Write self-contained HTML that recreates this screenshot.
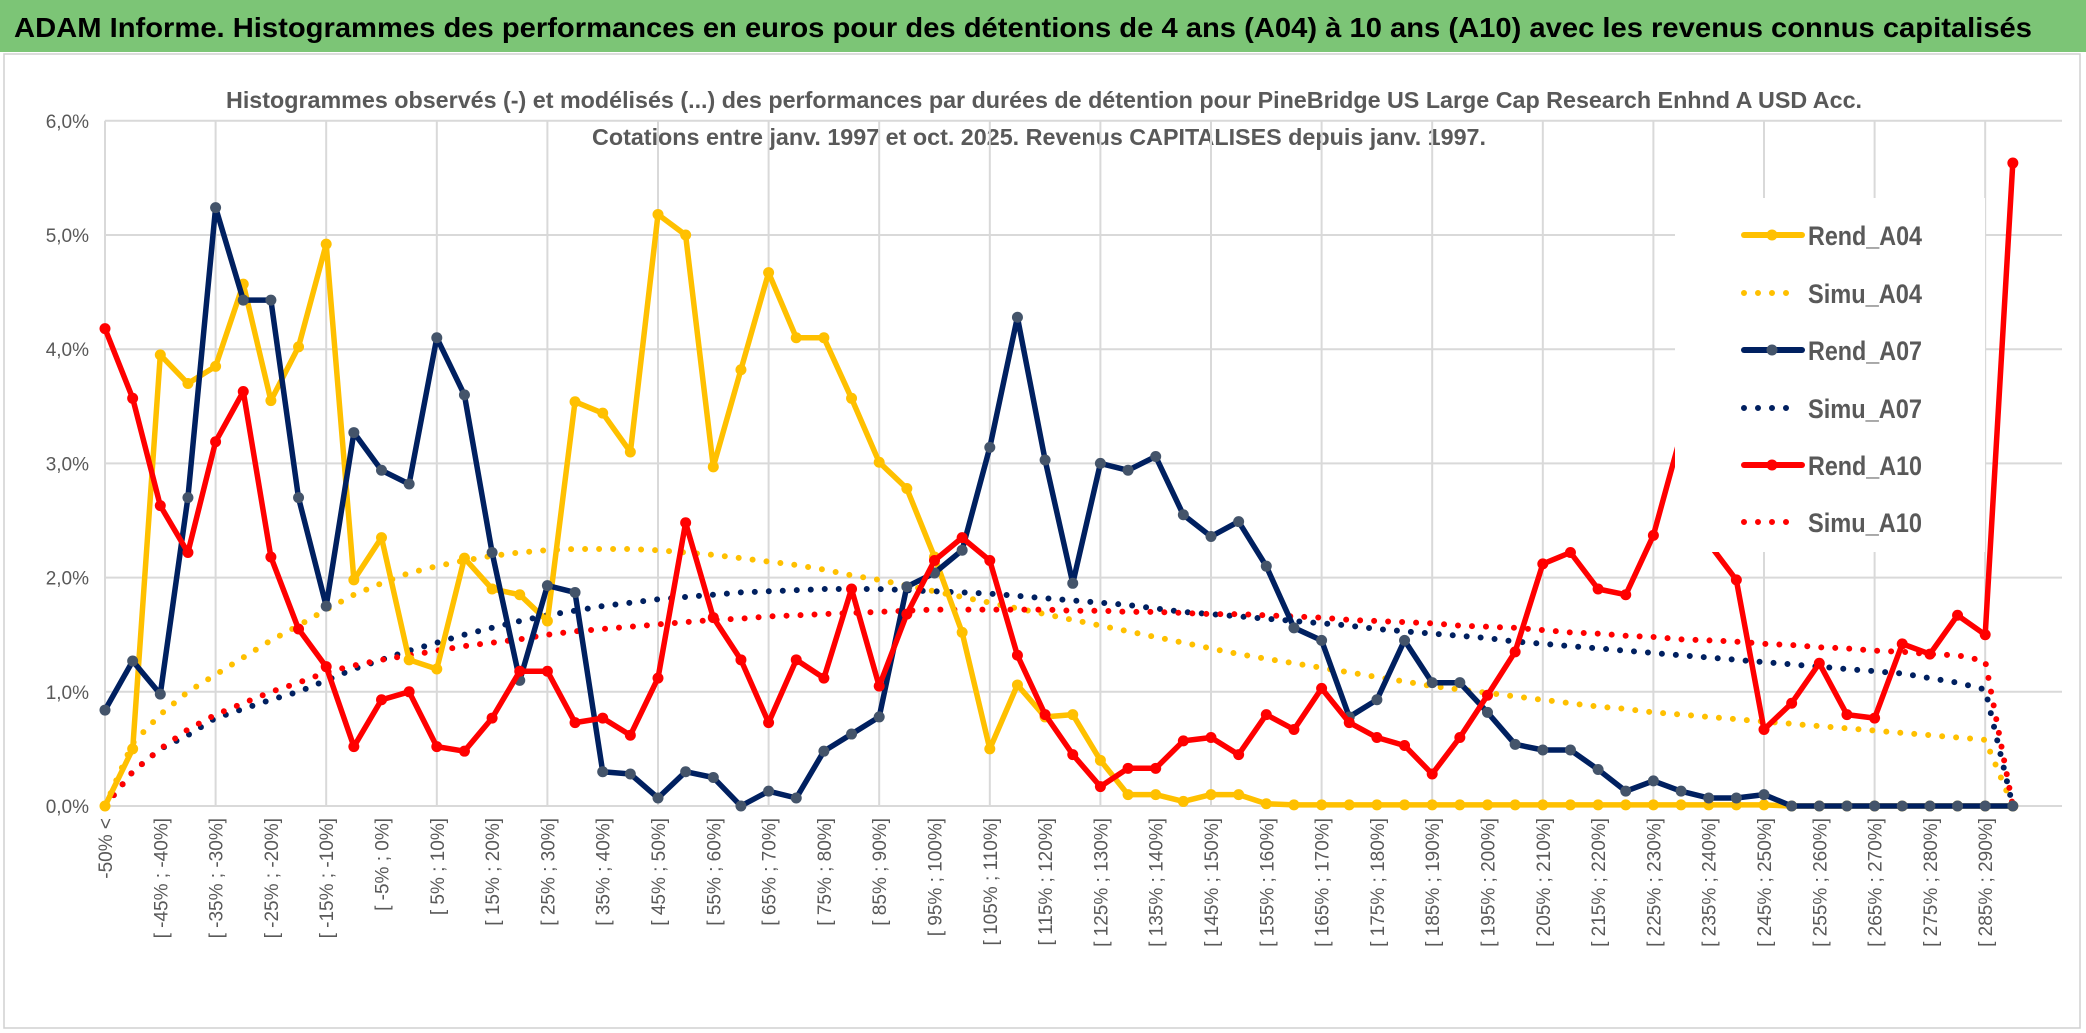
<!DOCTYPE html>
<html><head><meta charset="utf-8">
<style>
html,body{margin:0;padding:0;background:#fff;}
svg{display:block;font-family:"Liberation Sans",sans-serif;}
</style></head>
<body>
<svg id="chart" width="2086" height="1033" viewBox="0 0 2086 1033" xmlns="http://www.w3.org/2000/svg">
  <rect x="0" y="0" width="2086" height="1033" fill="#fff"/>
  <rect x="0" y="0" width="2086" height="52" fill="#7cc576"/>
  <text x="14" y="37" font-size="28" font-weight="bold" fill="#000" textLength="2018" lengthAdjust="spacingAndGlyphs">ADAM Informe. Histogrammes des performances en euros pour des détentions de 4 ans (A04) à 10 ans (A10) avec les revenus connus capitalisés</text>
  <rect x="4" y="54" width="2076" height="974" fill="none" stroke="#d0d0d0" stroke-width="1.5"/>
  <text x="1044" y="108" font-size="23" font-weight="bold" fill="#595959" text-anchor="middle" textLength="1636" lengthAdjust="spacingAndGlyphs">Histogrammes observés (-) et modélisés (...) des performances par durées de détention pour PineBridge US Large Cap Research Enhnd A USD Acc.</text>
  <text x="1039" y="145" font-size="23" font-weight="bold" fill="#595959" text-anchor="middle" textLength="894" lengthAdjust="spacingAndGlyphs">Cotations entre janv. 1997 et oct. 2025. Revenus CAPITALISES depuis janv. 1997.</text>
  <g id="grid"></g>
  <g id="yaxis"></g>
  <g id="xaxis"></g>
  <g id="series"></g>
  <g id="legend"></g>
</svg>
<script>
const rendA04 = [0,0.5,3.95,3.7,3.85,4.57,3.55,4.02,4.92,1.98,2.35,1.28,1.2,2.17,1.9,1.85,1.62,3.54,3.44,3.1,5.18,5.0,2.97,3.82,4.67,4.1,4.1,3.57,3.01,2.78,2.18,1.52,0.5,1.06,0.78,0.8,0.4,0.1,0.1,0.04,0.1,0.1,0.02,0.01,0.01,0.01,0.01,0.01,0.01,0.01,0.01,0.01,0.01,0.01,0.01,0.01,0.01,0.01,0.01,0.01,0.01,0,0,0,0,0,0,0,0,0];
const simuA04 = [0,0.55,0.8,1.0,1.15,1.3,1.45,1.58,1.72,1.85,1.95,2.04,2.1,2.15,2.19,2.22,2.24,2.25,2.25,2.25,2.24,2.22,2.2,2.17,2.14,2.11,2.07,2.02,1.98,1.93,1.88,1.83,1.78,1.73,1.68,1.63,1.58,1.53,1.48,1.43,1.38,1.33,1.29,1.25,1.21,1.17,1.13,1.09,1.05,1.02,0.99,0.96,0.93,0.9,0.87,0.85,0.82,0.8,0.78,0.76,0.74,0.72,0.7,0.68,0.66,0.64,0.62,0.6,0.58,0];
const rendA07 = [0.84,1.27,0.98,2.7,5.24,4.43,4.43,2.7,1.75,3.27,2.94,2.82,4.1,3.6,2.22,1.1,1.93,1.87,0.3,0.28,0.07,0.3,0.25,0.0,0.13,0.07,0.48,0.63,0.78,1.92,2.04,2.24,3.14,4.28,3.03,1.95,3.0,2.94,3.06,2.55,2.36,2.49,2.1,1.56,1.45,0.78,0.93,1.45,1.08,1.08,0.82,0.54,0.49,0.49,0.32,0.13,0.22,0.13,0.07,0.07,0.1,0,0,0,0,0,0,0,0,0];
const simuA07 = [0,0.3,0.5,0.62,0.77,0.85,0.93,1.0,1.1,1.2,1.28,1.36,1.43,1.5,1.56,1.62,1.67,1.71,1.75,1.78,1.81,1.83,1.85,1.87,1.88,1.89,1.9,1.9,1.9,1.89,1.88,1.87,1.86,1.84,1.82,1.8,1.78,1.76,1.73,1.7,1.68,1.66,1.64,1.62,1.6,1.58,1.55,1.53,1.51,1.49,1.47,1.44,1.42,1.4,1.38,1.36,1.34,1.32,1.3,1.28,1.26,1.24,1.22,1.2,1.18,1.16,1.12,1.08,1.02,0];
const rendA10 = [4.18,3.57,2.63,2.22,3.19,3.63,2.18,1.55,1.22,0.52,0.93,1.0,0.52,0.48,0.77,1.18,1.18,0.73,0.77,0.62,1.12,2.48,1.65,1.28,0.73,1.28,1.12,1.9,1.05,1.68,2.15,2.35,2.15,1.32,0.8,0.45,0.17,0.33,0.33,0.57,0.6,0.45,0.8,0.67,1.03,0.73,0.6,0.53,0.28,0.6,0.97,1.35,2.12,2.22,1.9,1.85,2.37,3.25,2.3,1.98,0.67,0.9,1.25,0.8,0.77,1.42,1.33,1.67,1.5,5.63];
const simuA10 = [0,0.3,0.5,0.67,0.8,0.9,1.0,1.08,1.17,1.23,1.28,1.32,1.36,1.4,1.43,1.46,1.5,1.53,1.55,1.57,1.59,1.61,1.63,1.64,1.66,1.67,1.68,1.69,1.7,1.71,1.72,1.72,1.72,1.72,1.72,1.71,1.71,1.7,1.7,1.69,1.68,1.68,1.67,1.66,1.65,1.63,1.62,1.61,1.6,1.58,1.57,1.56,1.54,1.52,1.51,1.49,1.48,1.46,1.45,1.44,1.42,1.41,1.39,1.38,1.36,1.35,1.33,1.32,1.27,0];
const yTicks = ["0,0%","1,0%","2,0%","3,0%","4,0%","5,0%","6,0%"];
const yTickValues = [0,1,2,3,4,5,6];

const NS="http://www.w3.org/2000/svg";
const N = rendA04.length;
const x0=105, dx=27.65, y0=806, dy=114.2;
function xs(i){return x0+i*dx;}
function ys(v){return y0-v*dy;}
function mk(tag,parent,attrs){const e=document.createElementNS(NS,tag);for(const k in attrs)e.setAttribute(k,attrs[k]);parent.appendChild(e);return e;}
function catLabel(i){ if(i===0) return "-50% <"; const a=-55+5*i,b=a+5; return "[ "+a+"% ; "+b+"%]"; }

const grid=document.getElementById('grid');
for(let k=0;k<yTickValues.length;k++){
  const l=mk('line',grid,{x1:x0,x2:2062,y1:ys(yTickValues[k]),y2:ys(yTickValues[k]),stroke:'#d9d9d9','stroke-width':2});
  
  
}
for(let i=0;i<N;i+=4){
  const l=mk('line',grid,{x1:xs(i),x2:xs(i),y1:ys(6),y2:ys(0),stroke:'#d9d9d9','stroke-width':2});
  
  
}
const yax=document.getElementById('yaxis');
for(let k=0;k<yTicks.length;k++){
  const t=mk('text',yax,{x:89,y:ys(yTickValues[k])+7,'font-size':19,fill:'#595959','text-anchor':'end'});
  t.textContent=yTicks[k];
  
  
}
const xax=document.getElementById('xaxis');
for(let i=0;i<N;i+=2){
  const x=xs(i)+7, y=818;
  const t=mk('text',xax,{x:x,y:y,'font-size':19,fill:'#595959','text-anchor':'end',transform:'rotate(-90 '+x+' '+y+')'});
  t.textContent=catLabel(i);
  
  
}
const ser=document.getElementById('series');
function pathD(arr){return arr.map((v,i)=>(i?'L':'M')+xs(i).toFixed(1)+' '+ys(v).toFixed(1)).join(' ');}
function dotted(arr,color,name){
  const p=mk('path',ser,{d:pathD(arr),fill:'none',stroke:color,'stroke-width':6,'stroke-linecap':'round','stroke-dasharray':'0 14'});
  
  
}
function solid(arr,color,mcol,name){
  const g=mk('g',ser,{});
  
  
  const p=mk('path',g,{d:pathD(arr),fill:'none',stroke:color,'stroke-width':5.5,'stroke-linejoin':'round'});
  
  
  arr.forEach((v,i)=>{
    const c=mk('circle',g,{cx:xs(i),cy:ys(v),r:5.5,fill:mcol});
    
    
  });
}
dotted(simuA04,'#ffc000','simu-a04-line');
dotted(simuA07,'#002060','simu-a07-line');
dotted(simuA10,'#ff0000','simu-a10-line');
solid(rendA04,'#ffc000','#ffc000','rend-a04');
solid(rendA07,'#002060','#44546a','rend-a07');
solid(rendA10,'#ff0000','#ff0000','rend-a10');

const leg=document.getElementById('legend');
const bg=mk('rect',leg,{x:1675,y:198,width:310,height:354,fill:'#fff'});


const entries=[["Rend_A04","#ffc000","#ffc000",false],["Simu_A04","#ffc000",null,true],["Rend_A07","#002060","#44546a",false],["Simu_A07","#002060",null,true],["Rend_A10","#ff0000","#ff0000",false],["Simu_A10","#ff0000",null,true]];
const ly=[235,293,350,408,465,522];
entries.forEach((e,k)=>{
  const g=mk('g',leg,{});
  
  
  const y=ly[k];
  if(e[3]){
    const l=mk('line',g,{x1:1744,x2:1800,y1:y,y2:y,stroke:e[1],'stroke-width':6,'stroke-linecap':'round','stroke-dasharray':'0 14'});
    
    
  } else {
    const l=mk('line',g,{x1:1744,x2:1802,y1:y,y2:y,stroke:e[1],'stroke-width':6,'stroke-linecap':'round'});
    
    
    const c=mk('circle',g,{cx:1772,cy:y,r:5.5,fill:e[2]});
    
    
  }
  const t=mk('text',g,{x:1808,y:y+10,'font-size':27,'font-weight':'bold',fill:'#595959',textLength:114,lengthAdjust:'spacingAndGlyphs'});
  t.textContent=e[0];
  
  
});
</script>
</body></html>
